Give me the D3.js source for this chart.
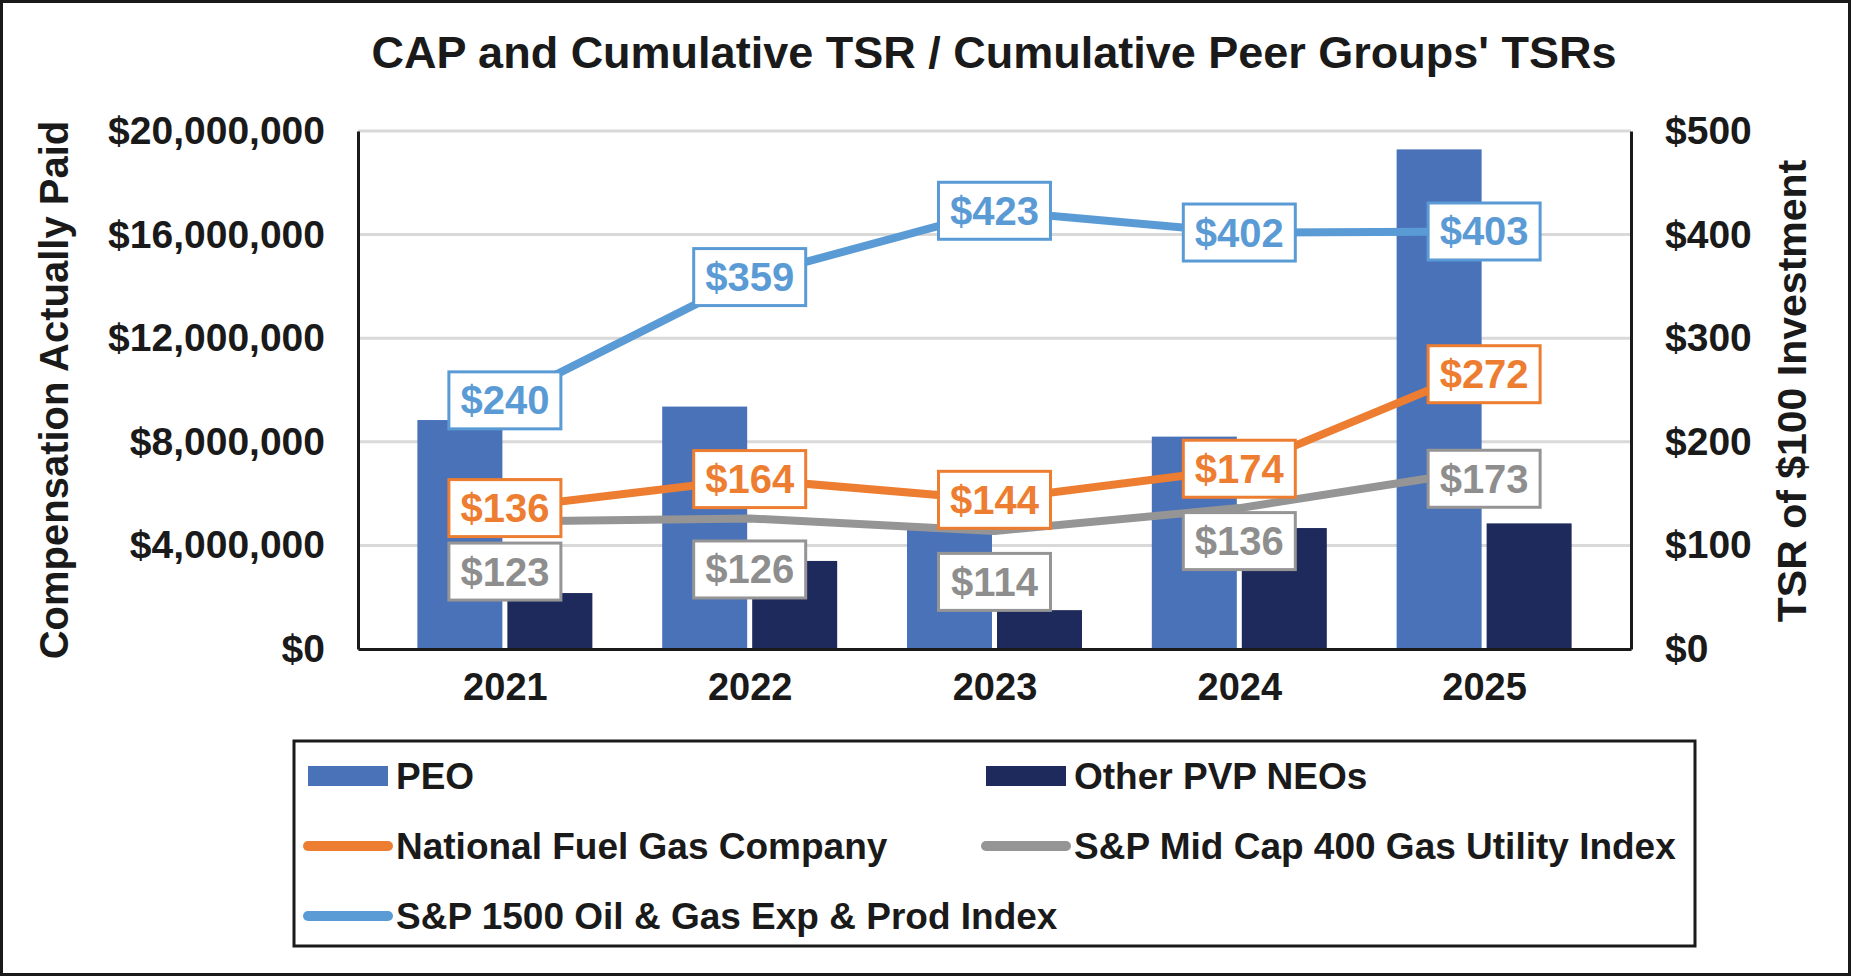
<!DOCTYPE html>
<html>
<head>
<meta charset="utf-8">
<title>CAP and Cumulative TSR</title>
<script src="https://cdn.jsdelivr.net/npm/d3@7/dist/d3.min.js"></script>
<style>
body { margin: 0; background: #fff; }
text { font-family: "Liberation Sans", Arial, Helvetica, sans-serif; font-weight: bold; }
</style>
</head>
<body>
<script>
// data
var years = ["2021", "2022", "2023", "2024", "2025"];
var peoCap = [8840000, 9360000, 4700000, 8200000, 19290000];
var otherCap = [2160000, 3400000, 1500000, 4670000, 4850000];
var nfgTsr = [136, 164, 144, 174, 272];
var gasUtilTsr = [123, 126, 114, 136, 173];
var oilGasTsr = [240, 359, 423, 402, 403];
var capTicks = [0, 4000000, 8000000, 12000000, 16000000, 20000000];
var tsrTicks = [0, 100, 200, 300, 400, 500];

var W = 1851, H = 976;
var plotLeft = 358, plotRight = 1631, plotTop = 131, plotBottom = 649;

var svg = d3.select("body").append("svg").attr("width", W).attr("height", H);
svg.append("rect").attr("x", 1.5).attr("y", 1.5).attr("width", W - 3).attr("height", H - 3)
    .attr("fill", "#fff").attr("stroke", "#1a1a1a").attr("stroke-width", 3);

var x = d3.scalePoint().domain(years).range([plotLeft, plotRight]).padding(0.6);
var yCap = d3.scaleLinear().domain([0, 20000000]).range([plotBottom, plotTop]);
var yTsr = d3.scaleLinear().domain([0, 500]).range([plotBottom, plotTop]);

// title
svg.append("text").attr("x", 994).attr("y", 68).attr("text-anchor", "middle")
    .attr("font-size", 45).attr("fill", "#1a1a1a")
    .text("CAP and Cumulative TSR / Cumulative Peer Groups' TSRs");

// gridlines
svg.append("g").selectAll("line").data(capTicks.slice(1)).enter().append("line")
    .attr("x1", plotLeft).attr("x2", plotRight)
    .attr("y1", function (d) { return yCap(d); }).attr("y2", function (d) { return yCap(d); })
    .attr("stroke", "#d9d9d9").attr("stroke-width", 3);

// bars
var barW = 85, gap = 5;
svg.append("g").selectAll("rect").data(peoCap).enter().append("rect")
    .attr("x", function (d, i) { return x(years[i]) - gap / 2 - barW; })
    .attr("width", barW)
    .attr("y", function (d) { return yCap(d); })
    .attr("height", function (d) { return plotBottom - yCap(d); })
    .attr("fill", "#4a72b8");
svg.append("g").selectAll("rect").data(otherCap).enter().append("rect")
    .attr("x", function (d, i) { return x(years[i]) + gap / 2; })
    .attr("width", barW)
    .attr("y", function (d) { return yCap(d); })
    .attr("height", function (d) { return plotBottom - yCap(d); })
    .attr("fill", "#1f2a5c");

// axes
var fmtCap = function (d) { return "$" + d3.format(",")(d); };
var leftAxis = svg.append("g").attr("transform", "translate(" + plotLeft + ",0)")
    .call(d3.axisLeft(yCap).tickValues(capTicks).tickFormat(fmtCap).tickSize(0).tickPadding(33));
var rightAxis = svg.append("g").attr("transform", "translate(" + plotRight + ",0)")
    .call(d3.axisRight(yTsr).tickValues(tsrTicks).tickFormat(function (d) { return "$" + d; }).tickSize(0).tickPadding(34));
var bottomAxis = svg.append("g").attr("transform", "translate(0," + plotBottom + ")")
    .call(d3.axisBottom(x).tickSize(0).tickPadding(24));
[leftAxis, rightAxis, bottomAxis].forEach(function (g) {
    g.select(".domain").attr("stroke", "#1a1a1a").attr("stroke-width", 3);
    g.selectAll("text").attr("font-size", 39).attr("fill", "#1a1a1a")
        .style("font-family", "'Liberation Sans', Arial, sans-serif").style("font-weight", "bold");
});
bottomAxis.selectAll("text").attr("font-size", 38);

// axis titles
svg.append("text").attr("transform", "translate(68,390) rotate(-90)")
    .attr("text-anchor", "middle").attr("font-size", 40).attr("fill", "#1a1a1a")
    .text("Compensation Actually Paid");
svg.append("text").attr("transform", "translate(1806,391) rotate(-90)")
    .attr("text-anchor", "middle").attr("font-size", 41).attr("fill", "#1a1a1a")
    .text("TSR of $100 Investment");

// lines
var series = [
    { name: "National Fuel Gas Company", values: nfgTsr, color: "#ed7d31", text: "#ed7d31", dy: [0, 0, 0, 0, 7] },
    { name: "S&P Mid Cap 400 Gas Utility Index", values: gasUtilTsr, color: "#959595", text: "#8e8e8e", dy: [50, 51, 51, 33, 9] },
    { name: "S&P 1500 Oil & Gas Exp & Prod Index", values: oilGasTsr, color: "#5b9bd5", text: "#5b9bd5", dy: [0, 0, 0, 0, 0] }
];
var line = d3.line()
    .x(function (d, i) { return x(years[i]); })
    .y(function (d) { return yTsr(d); });
series.forEach(function (s) {
    svg.append("path").datum(s.values).attr("d", line)
        .attr("fill", "none").attr("stroke", s.color).attr("stroke-width", 8)
        .attr("stroke-linejoin", "round");
});

// data label boxes
var boxW = 112, boxH = 57;
series.forEach(function (s) {
    var g = svg.append("g").selectAll("g").data(s.values).enter().append("g")
        .attr("transform", function (d, i) {
            return "translate(" + x(years[i]) + "," + (yTsr(d) + s.dy[i]) + ")";
        });
    g.append("rect").attr("x", -boxW / 2).attr("y", -boxH / 2)
        .attr("width", boxW).attr("height", boxH)
        .attr("fill", "#fff").attr("stroke", s.color).attr("stroke-width", 3);
    g.append("text").attr("text-anchor", "middle").attr("y", 14)
        .attr("font-size", 40).attr("fill", s.text)
        .text(function (d) { return "$" + d; });
});

// legend
var legend = svg.append("g");
legend.append("rect").attr("x", 294).attr("y", 741).attr("width", 1401).attr("height", 205)
    .attr("fill", "#fff").attr("stroke", "#1a1a1a").attr("stroke-width", 3);
var legendItems = [
    { name: "PEO", type: "bar", color: "#4a72b8", col: 0, row: 0 },
    { name: "Other PVP NEOs", type: "bar", color: "#1f2a5c", col: 1, row: 0 },
    { name: series[0].name, type: "line", color: series[0].color, col: 0, row: 1 },
    { name: series[1].name, type: "line", color: series[1].color, col: 1, row: 1 },
    { name: series[2].name, type: "line", color: series[2].color, col: 0, row: 2 }
];
var colX = [308, 986], rowY = [776, 846, 916];
legendItems.forEach(function (d) {
    var sx = colX[d.col], sy = rowY[d.row];
    if (d.type === "bar") {
        legend.append("rect").attr("x", sx).attr("y", sy - 10).attr("width", 80).attr("height", 20)
            .attr("fill", d.color);
    } else {
        legend.append("line").attr("x1", sx).attr("x2", sx + 80).attr("y1", sy).attr("y2", sy)
            .attr("stroke", d.color).attr("stroke-width", 10).attr("stroke-linecap", "round");
    }
    legend.append("text").attr("x", sx + 88).attr("y", sy + 13)
        .attr("font-size", 37).attr("fill", "#1a1a1a").text(d.name);
});
</script>
</body>
</html>
